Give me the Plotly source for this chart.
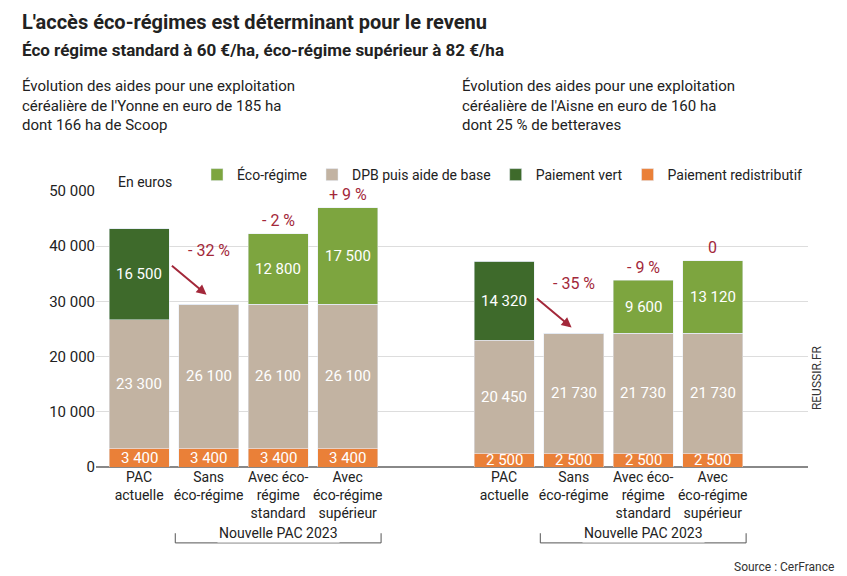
import plotly.graph_objects as go

categories = ["PAC<br>actuelle", "Sans<br>éco-régime", "Avec éco-<br>régime<br>standard", "Avec<br>éco-régime<br>supérieur"] * 2
xpos = [0, 1, 2, 3, 5.25, 6.25, 7.25, 8.25]
redistributif = [3400, 3400, 3400, 3400, 2500, 2500, 2500, 2500]
dpb = [23300, 26100, 26100, 26100, 20450, 21730, 21730, 21730]
vert = [16500, 0, 0, 0, 14320, 0, 0, 0]
eco = [0, 0, 12800, 17500, 0, 0, 9600, 13120]
variations = ["", "- 32 %", "- 2 %", "+ 9 %", "", "- 35 %", "- 9 %", "0"]

def fmt(v):
    return "" if v == 0 else f"{v:,}".replace(",", " ")

fig = go.Figure()
series = [("Paiement redistributif", redistributif, "#EA8038", 4),
          ("DPB puis aide de base", dpb, "#C2B3A2", 2),
          ("Paiement vert", vert, "#3E6A2B", 3),
          ("Éco-régime", eco, "#7DA53F", 1)]
base = [0] * len(xpos)
for name, vals, col, rank in series:
    fig.add_trace(go.Bar(x=xpos, y=vals, name=name, marker_color=col, width=0.86,
                         legendrank=rank))
    for x, b, v in zip(xpos, base, vals):
        if v:
            fig.add_annotation(x=x, y=b + v / 2, text=fmt(v), showarrow=False,
                               font=dict(color="white", size=15))
    base = [b + v for b, v in zip(base, vals)]

totals = base
for x, t, v in zip(xpos, totals, variations):
    if v and v not in ("- 32 %", "- 35 %"):
        fig.add_annotation(x=x, y=t, text=v, showarrow=False, yshift=13,
                           font=dict(color="#A3283A", size=16))
for x, t, v in [(0, totals[0], "- 32 %"), (5.25, totals[4], "- 35 %")]:
    fig.add_annotation(x=x + 1.0, y=t - 4000, text=v, showarrow=False, font=dict(color="#A3283A", size=16))
    fig.add_annotation(x=x + 0.97, y=t - 12000, ax=x + 0.45, ay=t - 6500, axref="x", ayref="y",
                       showarrow=True, arrowhead=2, arrowsize=1, arrowwidth=2, arrowcolor="#A3283A", text="")

for x0, x1 in [(1, 3), (6.25, 8.25)]:
    fig.add_shape(type="path", xref="x", yref="paper",
                  path=f"M {x0-0.48} -0.24 L {x0-0.48} -0.275 L {x1+0.48} -0.275 L {x1+0.48} -0.24",
                  line=dict(color="#555", width=1))
    fig.add_annotation(x=(x0 + x1) / 2, y=-0.275, yref="paper", text="Nouvelle PAC 2023",
                       showarrow=False, bgcolor="white", font=dict(size=14, color="#222"))

ann_texts = [
    (-0.107, 1.612, "<b>L'accès éco-régimes est déterminant pour le revenu</b>", 20),
    (-0.107, 1.51, "<b>Éco régime standard à 60 €/ha, éco-régime supérieur à 82 €/ha</b>", 17),
]
for x, y, t, s in ann_texts:
    fig.add_annotation(x=x, y=y, xref="paper", yref="paper", text=t, showarrow=False,
                       xanchor="left", yanchor="middle", align="left", font=dict(size=s, color="#222"))
for x, t in [(-0.107, "Évolution des aides pour une exploitation<br>céréalière de l'Yonne en euro de 185 ha<br>dont 166 ha de Scoop"),
             (0.511, "Évolution des aides pour une exploitation<br>céréalière de l'Aisne en euro de 160 ha<br>dont 25 % de betteraves")]:
    fig.add_annotation(x=x, y=1.42, xref="paper", yref="paper", text=t, showarrow=False,
                       xanchor="left", yanchor="top", align="left", font=dict(size=15, color="#222"))

fig.add_annotation(x=0.028, y=1.07, xref="paper", yref="paper", text="En euros", showarrow=False,
                   xanchor="left", font=dict(size=14, color="#222"))
fig.add_annotation(x=1.025, y=0.2, xref="paper", yref="paper", text="REUSSIR.FR", textangle=-90,
                   showarrow=False, font=dict(size=12, color="#333"))
fig.add_annotation(x=1.04, y=-0.395, xref="paper", yref="paper", text="Source : CerFrance",
                   showarrow=False, xanchor="right", font=dict(size=12, color="#333"))

fig.update_layout(
    width=847, height=576, barmode="stack", plot_bgcolor="white", paper_bgcolor="white",
    font=dict(family="Roboto", color="#222"),
    margin=dict(l=88, r=47, t=183, b=117),
    legend=dict(orientation="h", x=1.0, xanchor="right", y=1.0, yanchor="bottom",
                font=dict(size=14), traceorder="normal"),
    xaxis=dict(tickvals=xpos, ticktext=categories, range=[-0.62, 9.62],
               tickfont=dict(size=14), showline=False, ticks=""),
    yaxis=dict(range=[0, 50000], tickvals=[0, 10000, 20000, 30000, 40000, 50000],
               ticktext=["0", "10 000", "20 000", "30 000", "40 000", "50 000"],
               tickfont=dict(size=15), gridcolor="#ddd", zeroline=True, zerolinecolor="#888"),
    showlegend=True,
)
fig.write_html("out.html")
